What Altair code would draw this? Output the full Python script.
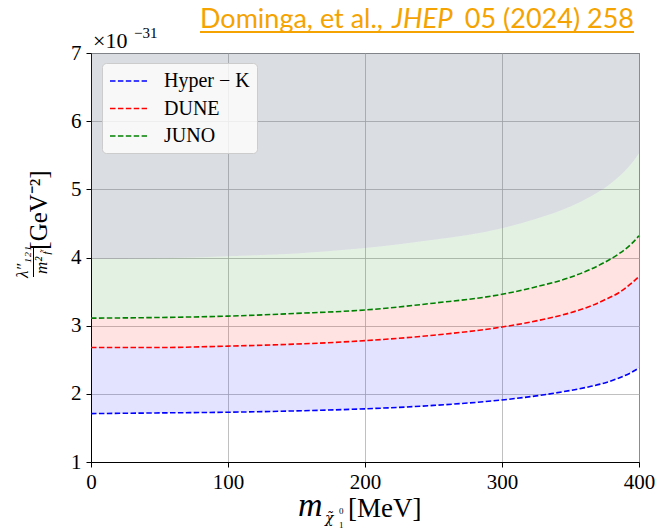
import altair as alt
import pandas as pd

# ---- data ----
mass = [0, 50, 100, 150, 200, 250, 300, 325, 350, 365, 375, 385, 395, 400]
hyperk = [1.71, 1.72, 1.73, 1.75, 1.78, 1.83, 1.91, 1.97, 2.05, 2.11, 2.16, 2.23, 2.32, 2.38]
dune = [2.68, 2.68, 2.70, 2.73, 2.78, 2.86, 2.98, 3.07, 3.19, 3.29, 3.38, 3.48, 3.63, 3.72]
juno = [3.11, 3.12, 3.14, 3.18, 3.23, 3.33, 3.46, 3.57, 3.71, 3.83, 3.93, 4.05, 4.21, 4.32]
excluded = [3.98, 3.99, 4.02, 4.06, 4.14, 4.26, 4.43, 4.57, 4.75, 4.90, 5.02, 5.18, 5.39, 5.53]
y_top = 7

series_names = ["Hyper \u2212 K", "DUNE", "JUNO"]
series_colors = ["#0000ff", "#ff0000", "#008000"]
x_ticks = [0, 100, 200, 300, 400]
y_ticks = [1, 2, 3, 4, 5, 6, 7]

wide = pd.DataFrame({"m": mass, "hk": hyperk, "dune": dune, "juno": juno,
                     "excl": excluded, "top": [y_top] * len(mass)})
long = pd.concat([
    pd.DataFrame({"m": mass, "v": vals, "series": name, "order": i})
    for i, (name, vals) in enumerate(zip(series_names, [hyperk, dune, juno]))
])

SERIF = "Liberation Serif"
ORANGE = "#f5a300"

xs = alt.Scale(domain=[0, 400], nice=False)
ys = alt.Scale(domain=[1, 7], nice=False)

xax = alt.Axis(values=x_ticks, format="d", title=None, tickSize=5, labelPadding=4,
               labelFlush=False, labelOverlap=False,
               domainColor="black", tickColor="black", gridColor="#b0b0b0",
               gridWidth=0.8, labelFont=SERIF, labelFontSize=21, labelColor="black")
yax = alt.Axis(values=y_ticks, format="d", title=None, tickSize=5, labelPadding=5,
               labelFlush=False, labelOverlap=False,
               domainColor="black", tickColor="black", gridColor="#b0b0b0",
               gridWidth=0.8, labelFont=SERIF, labelFontSize=21, labelColor="black")

base = alt.Chart(wide)


def band(lo, hi, color, op):
    return base.mark_area(color=color, opacity=op, interpolate="monotone").encode(
        x=alt.X("m:Q", scale=xs, axis=xax),
        y=alt.Y(f"{lo}:Q", scale=ys, axis=yax),
        y2=f"{hi}:Q",
    )


bands = [
    band("hk", "dune", "#0000ff", 0.11),
    band("dune", "juno", "#ff0000", 0.11),
    band("juno", "excl", "#008000", 0.11),
    band("excl", "top", "#5f6e7d", 0.23),
]

lines = alt.Chart(long).mark_line(strokeDash=[5.5, 2.4], strokeWidth=1.6,
                                   interpolate="monotone").encode(
    x=alt.X("m:Q", scale=xs, axis=xax),
    y=alt.Y("v:Q", scale=ys, axis=yax),
    color=alt.Color("series:N", scale=alt.Scale(domain=series_names, range=series_colors),
                    legend=alt.Legend(orient="none", legendX=11, legendY=10, title=None,
                                      symbolType="M-1,0H2.7", symbolSize=400,
                                      symbolStrokeWidth=1.6, symbolDash=[5.5, 2.4],
                                      labelFont=SERIF, labelFontSize=20, labelColor="black",
                                      labelOffset=33, rowPadding=6.5, padding=7,
                                      fillColor="rgba(255,255,255,0.8)",
                                      strokeColor="#cccccc", cornerRadius=4)),
    detail="order:O",
)


def txt(s, x, y, size, font=SERIF, color="black", style="normal", angle=0,
        align="left", baseline="alphabetic"):
    kw = dict(font=font, fontSize=size, color=color, align=align, baseline=baseline,
              fontStyle=style)
    if angle:
        kw["angle"] = angle
    return alt.Chart(pd.DataFrame({"t": [s]})).mark_text(**kw).encode(
        x=alt.value(x), y=alt.value(y), text="t:N")


annotations = [
    # citation
    txt("Dominga, et al.,", 109, -25, 27, font="Lato", color=ORANGE),
    txt("JHEP", 301, -25, 27.5, font="Lato", color=ORANGE, style="italic"),
    txt("05 (2024) 258", 543, -25, 27, font="Lato", color=ORANGE, align="right"),
    alt.Chart(pd.DataFrame({"t": [0]})).mark_rule(color=ORANGE, strokeWidth=2).encode(
        x=alt.value(109), x2=alt.value(543), y=alt.value(-21)),
    # multiplier
    txt("\u00d710", 2, -5, 22),
    txt("\u221231", 43, -15, 15),
    # x label
    txt("m", 207, 463, 34, style="italic"),
    txt("\u03c7\u0303", 234, 470, 14, font="DejaVu Serif", style="italic"),
    txt("0", 248, 461, 9),
    txt("1", 248, 475, 9),
    txt("[MeV]", 257, 464, 27),
    # y label
    txt("[GeV\u207b\u00b2]", -44, 157, 25, angle=270, align="center"),
    txt("\u03bb\u2033\u2081\u2082\u2081", -63, 209, 17, angle=270, align="center", style="italic"),
    alt.Chart(pd.DataFrame({"t": [0]})).mark_rule(color="black", strokeWidth=1).encode(
        x=alt.value(-57.5), y=alt.value(193), y2=alt.value(224)),
    txt("m\u00b2", -44, 221, 17, angle=270, align="left", style="italic"),
    txt("f\u0303", -41, 200, 11, angle=270, align="center", style="italic"),
]

chart = alt.layer(*bands, lines, *annotations).properties(
    width=548, height=409,
    padding={"left": 91, "top": 53, "right": 19, "bottom": 70},
    autosize=alt.AutoSizeParams(type="none"),
).configure_view(stroke="black", strokeWidth=1)

chart.save("out.html", embed_options={"renderer": "svg", "actions": False})
